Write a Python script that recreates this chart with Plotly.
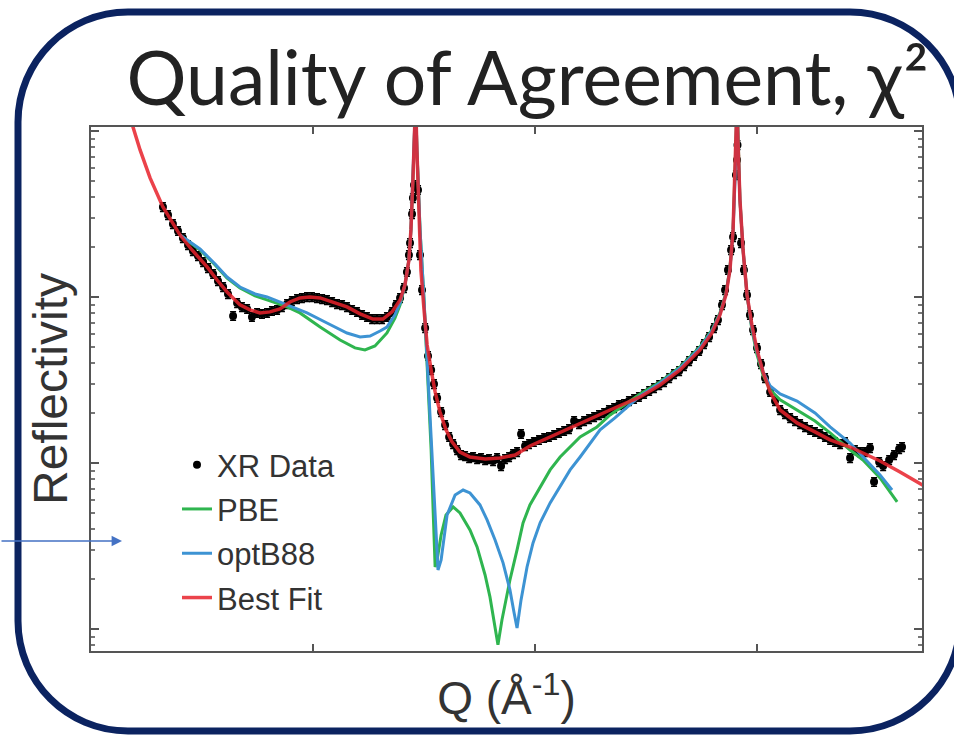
import numpy as np
import plotly.graph_objects as go

# ---------------- data (Q in 1/Angstrom, logR = log10 reflectivity) ----------------
fit_q = [0.16, 0.189, 0.221, 0.266, 0.324, 0.365, 0.401, 0.455, 0.523, 0.568, 0.613, 0.671, 0.716, 0.761,
         0.806, 0.851, 0.896, 0.941, 0.986, 1.032, 1.090, 1.153, 1.212, 1.270, 1.315, 1.356, 1.392, 1.414,
         1.432, 1.441, 1.450, 1.455, 1.462, 1.468, 1.477, 1.486, 1.500, 1.514, 1.532, 1.550, 1.572, 1.599,
         1.626, 1.662, 1.707, 1.775, 1.842, 1.910, 1.977, 2.068, 2.203, 2.338, 2.473, 2.563, 2.653, 2.743,
         2.797, 2.833, 2.860, 2.878, 2.892, 2.901, 2.905, 2.910, 2.914, 2.923, 2.937, 2.955, 2.977, 3.000,
         3.027, 3.059, 3.104, 3.180, 3.261, 3.329, 3.419, 3.477, 3.554, 3.644, 3.743, 3.76]
fit_logr = [-1.85, -1.976, -2.114, -2.283, -2.458, -2.548, -2.627, -2.717, -2.819, -2.898, -2.970, -3.048, -3.078, -3.096,
            -3.090, -3.072, -3.030, -3.006, -3.000, -3.006, -3.030, -3.060, -3.102, -3.133, -3.133, -3.090, -3.018, -2.928,
            -2.777, -2.596, -2.295, -2.054, -1.813, -2.114, -2.536, -2.837, -3.078, -3.289, -3.440, -3.572, -3.693, -3.801,
            -3.873, -3.934, -3.964, -3.976, -3.970, -3.952, -3.898, -3.843, -3.759, -3.681, -3.602, -3.530, -3.440, -3.319,
            -3.217, -3.108, -2.988, -2.837, -2.596, -2.295, -2.054, -1.813, -2.054, -2.416, -2.717, -2.988, -3.169, -3.319,
            -3.452, -3.572, -3.681, -3.759, -3.813, -3.861, -3.904, -3.940, -3.988, -4.054, -4.133, -4.145]

pbe_q = [0.401, 0.491, 0.559, 0.613, 0.671, 0.739, 0.806, 0.883, 0.941, 1.032, 1.122, 1.189, 1.234, 1.279,
         1.333, 1.369, 1.392, 1.414, 1.432, 1.441, 1.450, 1.455, 1.462, 1.468, 1.482, 1.500, 1.518, 1.532,
         1.541, 1.550, 1.559, 1.577, 1.599, 1.631, 1.662, 1.707, 1.739, 1.775, 1.797, 1.820, 1.833, 1.851,
         1.887, 1.919, 1.946, 1.977, 2.023, 2.068, 2.113, 2.203, 2.279, 2.338, 2.473, 2.563, 2.653, 2.743,
         2.797, 2.833, 2.860, 2.878, 2.892, 2.901, 2.905, 2.910, 2.914, 2.923, 2.937, 2.955, 2.977, 3.000,
         3.027, 3.059, 3.104, 3.180, 3.261, 3.329, 3.419, 3.477, 3.554, 3.631]
pbe_logr = [-2.627, -2.717, -2.807, -2.886, -2.946, -2.994, -3.024, -3.060, -3.096, -3.181, -3.259, -3.307, -3.319, -3.295,
            -3.217, -3.127, -3.048, -2.928, -2.777, -2.596, -2.295, -2.054, -1.813, -2.114, -2.596, -3.018, -3.500, -3.922,
            -4.283, -4.627, -4.584, -4.434, -4.313, -4.265, -4.301, -4.404, -4.506, -4.675, -4.807, -4.976, -5.096, -4.946,
            -4.705, -4.524, -4.361, -4.253, -4.145, -4.042, -3.964, -3.843, -3.783, -3.711, -3.584, -3.512, -3.422, -3.301,
            -3.199, -3.096, -2.976, -2.825, -2.596, -2.295, -2.054, -1.813, -2.054, -2.416, -2.717, -2.988, -3.199, -3.349,
            -3.470, -3.560, -3.620, -3.681, -3.747, -3.819, -3.922, -3.982, -4.090, -4.235]

optb88_q = [0.401, 0.491, 0.559, 0.613, 0.671, 0.739, 0.793, 0.883, 0.973, 1.063, 1.153, 1.212, 1.257, 1.302,
            1.333, 1.369, 1.392, 1.414, 1.432, 1.441, 1.450, 1.455, 1.462, 1.468, 1.482, 1.500, 1.518, 1.536,
            1.550, 1.563, 1.577, 1.604, 1.640, 1.676, 1.707, 1.752, 1.784, 1.820, 1.856, 1.887, 1.905, 1.919,
            1.937, 1.964, 1.991, 2.023, 2.068, 2.113, 2.158, 2.203, 2.293, 2.360, 2.473, 2.563, 2.653, 2.743,
            2.797, 2.833, 2.860, 2.878, 2.892, 2.901, 2.905, 2.910, 2.914, 2.923, 2.937, 2.955, 2.977, 3.000,
            3.027, 3.059, 3.104, 3.180, 3.261, 3.329, 3.419, 3.477, 3.554, 3.608]
optb88_logr = [-2.627, -2.711, -2.801, -2.880, -2.940, -2.982, -3.000, -3.048, -3.096, -3.157, -3.217, -3.241, -3.235, -3.205,
               -3.181, -3.108, -3.036, -2.928, -2.777, -2.596, -2.295, -2.054, -1.813, -2.114, -2.596, -3.018, -3.500, -3.922,
               -4.343, -4.645, -4.584, -4.313, -4.193, -4.163, -4.181, -4.253, -4.343, -4.464, -4.602, -4.765, -4.898, -4.994,
               -4.825, -4.627, -4.482, -4.361, -4.241, -4.145, -4.042, -3.964, -3.801, -3.729, -3.596, -3.518, -3.428, -3.307,
               -3.205, -3.102, -2.982, -2.831, -2.596, -2.295, -2.054, -1.813, -2.054, -2.416, -2.717, -2.988, -3.187, -3.331,
               -3.452, -3.536, -3.584, -3.627, -3.699, -3.783, -3.880, -3.964, -4.072, -4.163]

xr_q = [0.324, 0.347, 0.369, 0.392, 0.414, 0.437, 0.459, 0.482, 0.505, 0.527, 0.550, 0.572, 0.595, 0.617,
        0.640, 0.658, 0.680, 0.703, 0.725, 0.748, 0.770, 0.793, 0.815, 0.838, 0.860, 0.883, 0.905, 0.928,
        0.950, 0.973, 0.995, 1.018, 1.041, 1.063, 1.086, 1.108, 1.131, 1.153, 1.176, 1.198, 1.221, 1.243,
        1.266, 1.288, 1.311, 1.333, 1.356, 1.374, 1.392, 1.410, 1.423, 1.432, 1.437, 1.446, 1.450, 1.455,
        1.473, 1.482, 1.491, 1.505, 1.518, 1.532, 1.545, 1.559, 1.577, 1.595, 1.613, 1.631, 1.649, 1.667,
        1.685, 1.703, 1.721, 1.739, 1.757, 1.775, 1.793, 1.811, 1.829, 1.847, 1.865, 1.883, 1.901, 1.919,
        1.937, 1.955, 1.973, 1.995, 2.018, 2.041, 2.063, 2.086, 2.108, 2.131, 2.153, 2.176, 2.198, 2.221,
        2.243, 2.266, 2.288, 2.311, 2.333, 2.356, 2.378, 2.401, 2.423, 2.446, 2.468, 2.491, 2.514, 2.536,
        2.559, 2.581, 2.604, 2.626, 2.649, 2.671, 2.694, 2.716, 2.739, 2.761, 2.784, 2.806, 2.824, 2.842,
        2.856, 2.869, 2.883, 2.892, 2.905, 2.910, 2.912, 2.928, 2.941, 2.955, 2.968, 2.982, 3.000, 3.018,
        3.036, 3.059, 3.081, 3.104, 3.126, 3.149, 3.171, 3.194, 3.216, 3.239, 3.261, 3.284, 3.306, 3.329,
        3.351, 3.374, 3.396, 3.419, 3.441, 3.464, 3.486, 3.509, 3.527, 3.550, 3.568, 3.595, 3.617, 3.640,
        3.653]
xr_logr = [-2.458, -2.506, -2.560, -2.602, -2.645, -2.687, -2.723, -2.753, -2.789, -2.825, -2.861, -2.904, -2.940, -2.982,
           -3.114, -3.036, -3.060, -3.072, -3.120, -3.096, -3.102, -3.096, -3.084, -3.078, -3.060, -3.042, -3.024, -3.012,
           -3.006, -3.000, -3.000, -3.006, -3.012, -3.018, -3.030, -3.042, -3.048, -3.060, -3.078, -3.090, -3.108, -3.120,
           -3.133, -3.133, -3.133, -3.120, -3.090, -3.048, -3.006, -2.946, -2.849, -2.747, -2.675, -2.500, -2.404, -2.325,
           -2.355, -2.747, -2.958, -3.187, -3.355, -3.440, -3.524, -3.608, -3.693, -3.771, -3.843, -3.886, -3.922, -3.952,
           -3.958, -3.970, -3.964, -3.976, -3.970, -3.982, -3.976, -3.988, -3.970, -4.018, -3.976, -3.964, -3.946, -3.934,
           -3.825, -3.898, -3.886, -3.873, -3.861, -3.849, -3.843, -3.831, -3.819, -3.807, -3.795, -3.747, -3.765, -3.747,
           -3.735, -3.723, -3.711, -3.699, -3.681, -3.669, -3.651, -3.645, -3.627, -3.614, -3.602, -3.584, -3.566, -3.548,
           -3.530, -3.512, -3.488, -3.464, -3.446, -3.416, -3.386, -3.355, -3.325, -3.283, -3.241, -3.187, -3.139, -3.048,
           -2.958, -2.837, -2.717, -2.639, -2.265, -2.175, -2.084, -2.675, -2.837, -2.988, -3.108, -3.199, -3.307, -3.404,
           -3.488, -3.572, -3.627, -3.681, -3.705, -3.729, -3.747, -3.765, -3.783, -3.801, -3.813, -3.825, -3.843, -3.861,
           -3.873, -3.886, -3.873, -3.970, -3.922, -3.934, -3.934, -3.910, -4.114, -3.994, -4.018, -3.982, -3.952, -3.916,
           -3.904]
xr_err_frac = 0.06  # relative error on reflectivity

# ---------------- styling ----------------
GREEN = "#2fb54f"
BLUE = "#3d93d3"
RED = "#e8222b"
NAVY = "#0b2360"

W, H = 954, 737
ML, MR, MT, MB = 91, 32, 127, 86
PW, PH = W - ML - MR, H - MT - MB

def px2paper_x(px):
    return (px - ML) / PW

def px2paper_y(py):
    return (H - MB - py) / PH

fig = go.Figure()

xr_r = np.power(10.0, xr_logr)
fig.add_trace(go.Scatter(
    x=xr_q, y=xr_r, mode="markers", name="XR Data", legendgroup="a",
    marker=dict(color="black", size=8),
    error_y=dict(type="percent", value=xr_err_frac * 100, color="black", thickness=1.5, width=3),
))
fig.add_trace(go.Scatter(x=pbe_q, y=np.power(10.0, pbe_logr), mode="lines", name="PBE", legendgroup="b",
                         line=dict(color=GREEN, width=3)))
fig.add_trace(go.Scatter(x=optb88_q, y=np.power(10.0, optb88_logr), mode="lines", name="optB88", legendgroup="c",
                         line=dict(color=BLUE, width=3)))
fig.add_trace(go.Scatter(x=fit_q, y=np.power(10.0, fit_logr), mode="lines", name="Best Fit", legendgroup="d",
                         line=dict(color=RED, width=3.5), opacity=0.85))

axis_common = dict(showgrid=False, zeroline=False, showline=True, linecolor="#555555", linewidth=2,
                   mirror="allticks", ticks="inside", tickcolor="#555555", showticklabels=False)

fig.update_xaxes(range=[0, 3.743], tickvals=[1, 2, 3], ticklen=7, tickwidth=1.5,
                 title=dict(text="Q (Å<sup>-1</sup>)", font=dict(family="Liberation Sans, Arial", size=46, color="#333333"),
                            standoff=30),
                 **axis_common)
fig.update_yaxes(type="log", range=[-5.133, -1.976], dtick=1, ticklen=8, tickwidth=1.5,
                 minor=dict(ticks="inside", ticklen=4, tickcolor="#777777", dtick="D1"),
                 title=dict(text="Reflectivity", font=dict(family="Liberation Sans, Arial", size=48, color="#333333"),
                            standoff=6),
                 **axis_common)

# rounded frame (paper coords, circular corners via cubic Beziers); right edge sits just off the page
x0, x1 = px2paper_x(18), px2paper_x(960)
y0, y1 = px2paper_y(731), px2paper_y(12)
rx = 110 / PW
ry = 110 / PH
k = 0.5523
path = (f"M {x0 + rx},{y1} L {x1 - rx},{y1} "
        f"C {x1 - rx + k * rx},{y1} {x1},{y1 - ry + k * ry} {x1},{y1 - ry} "
        f"L {x1},{y0 + ry} "
        f"C {x1},{y0 + ry - k * ry} {x1 - rx + k * rx},{y0} {x1 - rx},{y0} "
        f"L {x0 + rx},{y0} "
        f"C {x0 + rx - k * rx},{y0} {x0},{y0 + ry - k * ry} {x0},{y0 + ry} "
        f"L {x0},{y1 - ry} "
        f"C {x0},{y1 - ry + k * ry} {x0 + rx - k * rx},{y1} {x0 + rx},{y1} Z")
fig.add_shape(type="path", path=path, xref="paper", yref="paper",
              line=dict(color=NAVY, width=7), fillcolor="rgba(0,0,0,0)", layer="above")

# pointer arrow
fig.add_annotation(x=px2paper_x(122), y=px2paper_y(541), xref="paper", yref="paper",
                   ax=-122, ay=0, text="", showarrow=True, arrowhead=2, arrowsize=1.6,
                   arrowwidth=1.3, arrowcolor="#4472c4", standoff=0)

fig.update_layout(
    width=W, height=H,
    margin=dict(l=ML, r=MR, t=MT, b=MB),
    paper_bgcolor="white", plot_bgcolor="white",
    title=dict(text="Quality of Agreement, χ²", x=0.553, xanchor="center", xref="container",
               y=0.893, yanchor="middle", yref="container",
               font=dict(family="Lato, Open Sans", size=75, color="#222222")),
    legend=dict(x=px2paper_x(177), y=px2paper_y(438), xanchor="left", yanchor="top",
                bgcolor="rgba(0,0,0,0)", tracegroupgap=1,
                font=dict(family="Liberation Sans, Arial", size=31, color="#333333")),
    showlegend=True,
)

fig.write_html("out.html")
